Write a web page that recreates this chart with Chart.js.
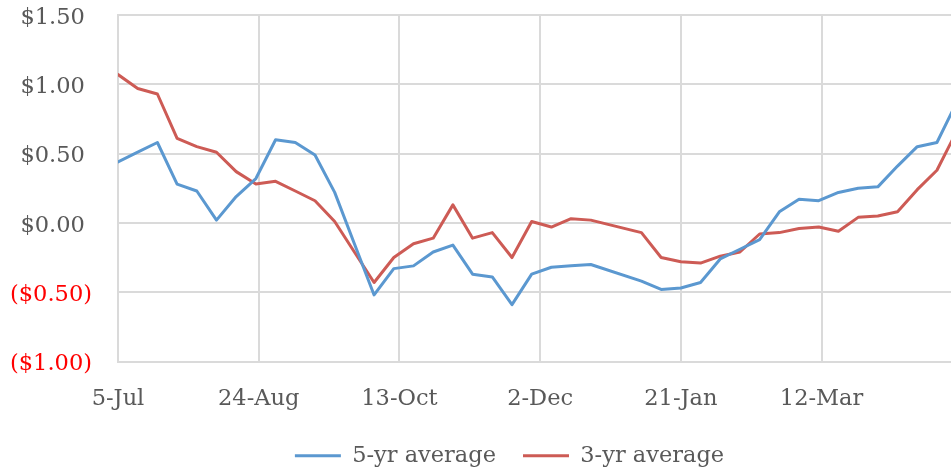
<!DOCTYPE html>
<html>
<head>
<meta charset="utf-8">
<script src="https://cdn.jsdelivr.net/npm/chart.js@4"></script>
<style>
  html, body { margin: 0; padding: 0; background: #ffffff; }
  #wrap { width: 951px; height: 473px; }
</style>
</head>
<body>
<div id="wrap"><canvas id="c" width="951" height="473"></canvas></div>
<script>
// Weekly observation dates
const weekDates = [
  '2014-07-05','2014-07-12','2014-07-19','2014-07-26','2014-08-02','2014-08-09',
  '2014-08-16','2014-08-23','2014-08-30','2014-09-06','2014-09-13','2014-09-20',
  '2014-09-27','2014-10-04','2014-10-11','2014-10-18','2014-10-25','2014-11-01',
  '2014-11-08','2014-11-15','2014-11-22','2014-11-29','2014-12-06','2014-12-13',
  '2014-12-20',
  '2015-01-07','2015-01-14','2015-01-21','2015-01-28','2015-02-04','2015-02-11',
  '2015-02-18','2015-02-25','2015-03-04','2015-03-11','2015-03-18','2015-03-25',
  '2015-04-01','2015-04-08','2015-04-15','2015-04-22','2015-04-29'
];

// 5-year average ($)
const avg5yr = [
  0.44, 0.51, 0.58, 0.28, 0.23, 0.02, 0.19, 0.32, 0.60, 0.58, 0.49, 0.22,
  -0.15, -0.52, -0.33, -0.31, -0.21, -0.16, -0.37, -0.39, -0.59, -0.37, -0.32, -0.31,
  -0.30,
  -0.42, -0.48, -0.47, -0.43, -0.26, -0.19, -0.12, 0.08, 0.17, 0.16, 0.22, 0.25,
  0.26, 0.41, 0.55, 0.58, 0.87
];

// 3-year average ($)
const avg3yr = [
  1.07, 0.97, 0.93, 0.61, 0.55, 0.51, 0.37, 0.28, 0.30, 0.23, 0.16, 0.01,
  -0.21, -0.43, -0.25, -0.15, -0.11, 0.13, -0.11, -0.07, -0.25, 0.01, -0.03, 0.03,
  0.02,
  -0.07, -0.25, -0.28, -0.29, -0.24, -0.21, -0.08, -0.07, -0.04, -0.03, -0.06, 0.04,
  0.05, 0.08, 0.24, 0.38, 0.66
];

// Axis settings
const startDate = '2014-07-05';
const axisEndDay = 296;
const dayStep = 50;
const yTicks = [-1.0, -0.5, 0.0, 0.5, 1.0, 1.5];
const monthNames = ['Jan','Feb','Mar','Apr','May','Jun','Jul','Aug','Sep','Oct','Nov','Dec'];

const DAY_MS = 86400000;
const t0 = Date.parse(startDate + 'T00:00:00Z');
const dayOffset = s => Math.round((Date.parse(s + 'T00:00:00Z') - t0) / DAY_MS);
const dayLabel = d => {
  const dt = new Date(t0 + d * DAY_MS);
  return dt.getUTCDate() + '-' + monthNames[dt.getUTCMonth()];
};
const moneyLabel = v => {
  const a = Math.abs(v).toFixed(2);
  return v < -1e-9 ? '($' + a + ')' : '$' + a + ' ';
};

const toPoints = vals => vals.map((v, i) => ({ x: dayOffset(weekDates[i]), y: v }));

const BLUE = '#5B98D0';
const RED = '#CD5B55';
const GRID = '#dadada';
const TEXT = '#595959';

Chart.defaults.font.family = "'DejaVu Serif', serif";
Chart.defaults.font.size = 22.5;
Chart.defaults.color = TEXT;

// Places the legend row under the plot area
const legendPlacement = {
  id: 'legendPlacement',
  afterLayout(chart) {
    const lg = chart.legend;
    if (!lg) return;
    lg.left += 34; lg.right += 34;
    lg.top += 4; lg.bottom += 4;
  }
};

new Chart(document.getElementById('c'), {
  type: 'line',
  data: {
    datasets: [
      {
        label: '5-yr average',
        data: toPoints(avg5yr),
        borderColor: BLUE,
        backgroundColor: BLUE,
        borderWidth: 3,
        pointRadius: 0,
        tension: 0,
        fill: false,
        borderJoinStyle: 'round',
        borderCapStyle: 'round'
      },
      {
        label: '3-yr average',
        data: toPoints(avg3yr),
        borderColor: RED,
        backgroundColor: RED,
        borderWidth: 3,
        pointRadius: 0,
        tension: 0,
        fill: false,
        borderJoinStyle: 'round',
        borderCapStyle: 'round'
      }
    ]
  },
  options: {
    responsive: false,
    animation: false,
    maintainAspectRatio: false,
    layout: { padding: { top: 15, left: 0, right: 0, bottom: 0 } },
    plugins: {
      tooltip: { enabled: false },
      legend: {
        position: 'bottom',
        labels: {
          boxWidth: 46,
          boxHeight: 3,
          padding: 27,
          color: TEXT,
          generateLabels(chart) {
            return Chart.defaults.plugins.legend.labels.generateLabels(chart)
              .map(it => Object.assign(it, { lineWidth: 0 }));
          }
        }
      }
    },
    scales: {
      x: {
        type: 'linear',
        min: 0,
        max: axisEndDay,
        afterFit(scale) { scale.height = 52; },
        border: { display: false },
        grid: { color: GRID, lineWidth: 2, drawTicks: false },
        ticks: {
          stepSize: dayStep,
          includeBounds: false,
          padding: 24,
          maxRotation: 0,
          autoSkip: false,
          color: TEXT,
          callback: v => dayLabel(v)
        }
      },
      y: {
        min: yTicks[0],
        max: yTicks[yTicks.length - 1],
        afterFit(scale) {
          scale.width = 118;
          scale.paddingTop = 0;
          scale.paddingBottom = 0;
        },
        border: { display: true, color: GRID, width: 2 },
        grid: { color: GRID, lineWidth: 2, drawTicks: false },
        ticks: {
          stepSize: 0.5,
          padding: 26,
          labelOffset: 3,
          color: ctx => (ctx.tick.value < -1e-9 ? '#FF0000' : TEXT),
          callback: v => moneyLabel(v)
        }
      }
    }
  },
  plugins: [legendPlacement]
});
</script>
</body>
</html>
